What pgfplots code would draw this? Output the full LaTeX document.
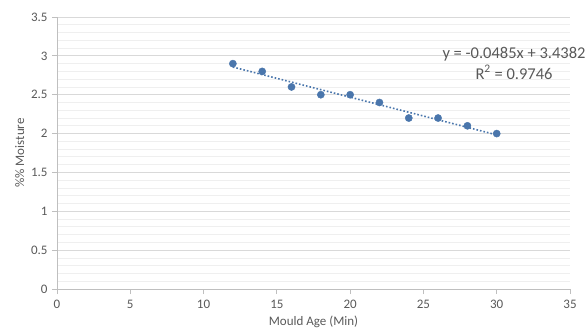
\documentclass[border=0pt]{standalone}
\usepackage{pgfplots}
\pgfplotsset{compat=1.18}
\usepackage{fontspec}
\setmainfont{Carlito}
\definecolor{txt}{HTML}{595959}
\definecolor{ptblue}{HTML}{4A76AC}
\definecolor{majg}{HTML}{D9D9D9}
\definecolor{ming}{HTML}{EFEFEF}
\definecolor{axg}{HTML}{BFBFBF}
\begin{document}
\begin{tikzpicture}[x=1bp,y=1bp]
\begin{axis}[
  at={(0,0)}, anchor=south west,
  scale only axis, width=513bp, height=272bp,
  xmin=0, xmax=35, ymin=0, ymax=3.5,
  xtick={0,5,...,35}, ytick={0,0.5,...,3.5},
  minor y tick num=4,
  ymajorgrids, yminorgrids,
  major grid style={majg, line width=0.8bp},
  minor grid style={ming, line width=0.8bp},
  axis x line*=bottom, axis y line*=left,
  axis line style={axg, line width=0.8bp, -},
  tick align=outside,
  major tick length=5bp, minor tick length=0bp,
  tick style={axg, line width=0.8bp},
  minor tick style={draw=none},
  every tick label/.append style={font=\fontsize{13bp}{15bp}\selectfont, text=txt},
  /pgf/number format/assume math mode=true,
  xticklabel style={yshift=-3bp},
  yticklabel style={xshift=-1bp},
  xlabel={Mould Age (Min)},
  ylabel={\%\% Moisture},
  label style={font=\fontsize{13bp}{15bp}\selectfont, text=txt},
  xlabel style={yshift=0bp},
  ylabel style={yshift=0bp},
  clip=false,
]
\addplot[ptblue, line width=1.6bp, dotted, forget plot] coordinates {(12,2.8562) (30,1.9832)};
\addplot[only marks, mark=*, mark size=3.6bp, mark options={fill=ptblue, draw=ptblue}] coordinates {
(12,2.9) (14,2.8) (16,2.6) (18,2.5) (20,2.5) (22,2.4) (24,2.2) (26,2.2) (28,2.1) (30,2.0)};
\end{axis}
\node[align=center, text=txt, font=\fontsize{16.5bp}{21bp}\selectfont] at (457bp,226bp) {y = -0.0485x + 3.4382\\R\textsuperscript{2} = 0.9746};
\pgfresetboundingbox
\useasboundingbox (-57bp,-45bp) rectangle (530bp,289bp);
\end{tikzpicture}
\end{document}
